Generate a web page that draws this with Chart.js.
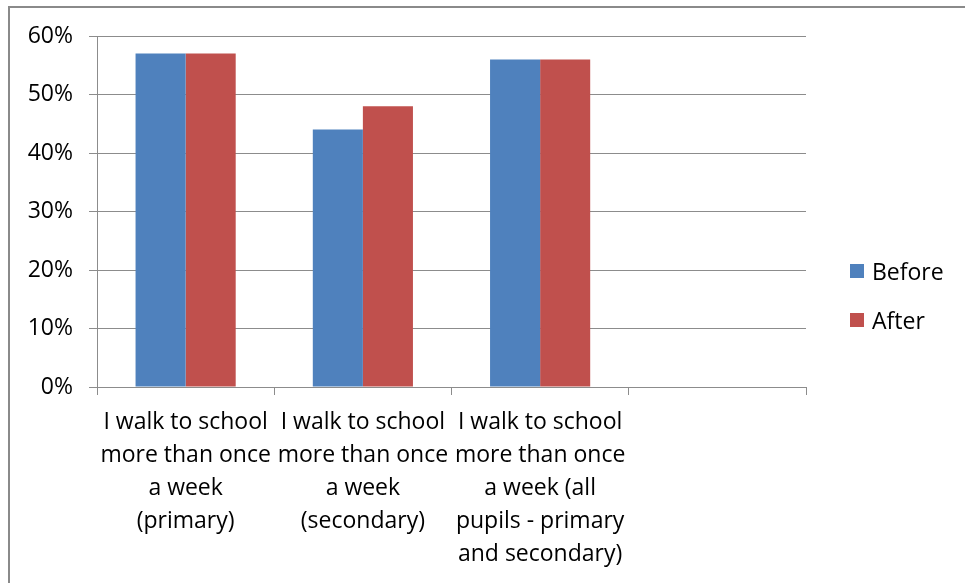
<!DOCTYPE html>
<html>
<head>
<meta charset="utf-8">
<script src="https://cdn.jsdelivr.net/npm/chart.js@4"></script>
<style>
  html, body { margin: 0; padding: 0; background: #fff; }
  body { width: 965px; height: 583px; position: relative; overflow: hidden; }
  #frame {
    position: absolute; left: 8px; top: 6px; width: 980px; height: 600px;
    border-left: 2px solid #8a8a8a; border-top: 2px solid #8a8a8a;
  }
  #wrap { position: absolute; left: 0; top: 0; width: 965px; height: 583px; }
  #legend {
    position: absolute; left: 850px; top: 256px;
    font-family: "Open Sans", sans-serif; font-size: 23px; color: #000;
  }
  .item { display: flex; align-items: center; height: 30px; margin-bottom: 19px; }
  .swatch { width: 14px; height: 14px; margin-right: 8px; }
</style>
</head>
<body>
<div id="frame"></div>
<div id="wrap"><canvas id="chart" width="965" height="583"></canvas></div>
<div id="legend"></div>
<script>
/* ── data ────────────────────────────────────────────────── */

const CATEGORIES = [
  ["I walk to school", "more than once", "a week", "(primary)"],
  ["I walk to school", "more than once", "a week", "(secondary)"],
  ["I walk to school", "more than once", "a week (all", "pupils - primary", "and secondary)"],
  "",
];
const BEFORE = [57, 44, 56, null];
const AFTER  = [57, 48, 56, null];
const SERIES_NAMES = ["Before", "After"];
const COLORS = ["#4F81BD", "#C0504D"];

/* ── chart ───────────────────────────────────────────────── */

const FONT = { family: "'Open Sans', sans-serif", size: 23 };
const AXIS = "#8c8c8c";

new Chart(document.getElementById("chart"), {
  type: "bar",
  data: {
    labels: CATEGORIES,
    datasets: [
      { label: SERIES_NAMES[0], data: BEFORE, backgroundColor: COLORS[0] },
      { label: SERIES_NAMES[1], data: AFTER,  backgroundColor: COLORS[1] },
    ],
  },
  options: {
    responsive: false,
    animation: false,
    layout: { padding: { left: 0, right: 159, top: 36, bottom: 0 } },
    datasets: { bar: { barPercentage: 1, categoryPercentage: 0.565 } },
    plugins: { legend: { display: false }, tooltip: { enabled: false } },
    scales: {
      x: {
        grid: { offset: true, drawOnChartArea: false, drawTicks: true, tickLength: 8, color: AXIS },
        border: { color: AXIS },
        ticks: { font: { ...FONT, lineHeight: 1.43 }, color: "#000", padding: 11, maxRotation: 0, autoSkip: false },
        afterFit: s => { s.height = 583 - 387; },
      },
      y: {
        min: 0, max: 60,
        grid: { color: AXIS, tickLength: 8 },
        border: { color: AXIS },
        ticks: { stepSize: 10, font: FONT, color: "#000", padding: 16, callback: v => v + "%" },
        afterFit: s => { s.width = 97; },
      },
    },
  },
});

/* ── legend ──────────────────────────────────────────────── */

document.getElementById("legend").innerHTML = SERIES_NAMES.map((n, i) =>
  `<div class="item"><span class="swatch" style="background:${COLORS[i]}"></span>${n}</div>`
).join("");
</script>
</body>
</html>
